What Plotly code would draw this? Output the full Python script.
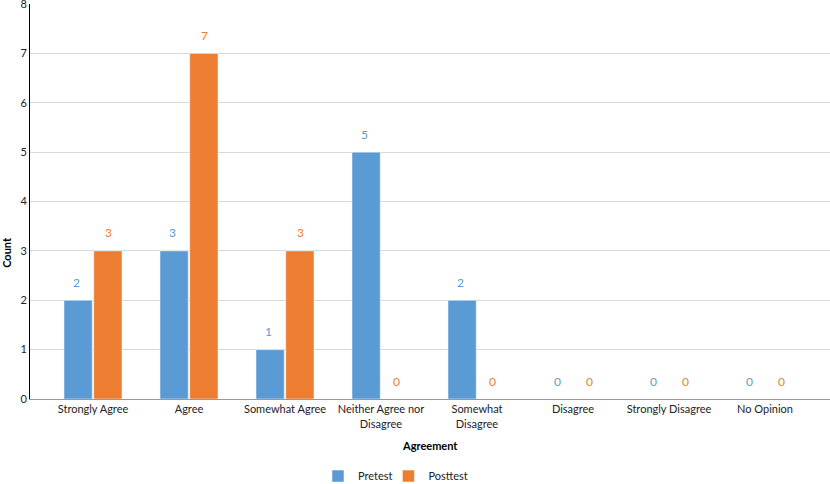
import plotly.graph_objects as go

categories = ["Strongly Agree", "Agree", "Somewhat Agree", "Neither Agree nor<br>Disagree",
              "Somewhat<br>Disagree", "Disagree", "Strongly Disagree", "No Opinion"]
pretest = [2, 3, 1, 5, 2, 0, 0, 0]
posttest = [3, 7, 3, 0, 0, 0, 0, 0]

BLUE = "#5B9BD5"
ORANGE = "#ED7D31"
FONT = "Lato"

fig = go.Figure()
fig.add_trace(go.Bar(x=categories, y=pretest, name="Pretest", marker_color=BLUE,
                     marker_line=dict(color="white", width=0.5), legend="legend"))
fig.add_trace(go.Bar(x=categories, y=posttest, name="Posttest", marker_color=ORANGE,
                     marker_line=dict(color="white", width=0.5), legend="legend2"))

# data labels above each bar
for vals, color, shift in [(pretest, BLUE, -16), (posttest, ORANGE, 16)]:
    for cat, v in zip(categories, vals):
        fig.add_annotation(x=cat, y=v, text=str(v), showarrow=False, xshift=shift, yshift=18,
                           font=dict(family=FONT, size=12, color=color))

fig.add_annotation(x=0.5, y=-0.095, xref="paper", yref="paper", xanchor="center", yanchor="top",
                   text="<b>Agreement</b>", showarrow=False, font=dict(family=FONT, size=11, color="black"))
fig.add_annotation(x=0, y=0.37, xref="paper", yref="paper", xanchor="center", yanchor="middle",
                   text="<b>Count</b>", showarrow=False, textangle=-90, xshift=-23,
                   font=dict(family=FONT, size=11, color="black"))

leg = dict(orientation="h", xanchor="left", y=-0.195, yanchor="middle", bgcolor="rgba(0,0,0,0)",
           font=dict(family=FONT, size=11, color="#222"))
fig.update_layout(
    width=830, height=484,
    margin=dict(l=30, r=0, t=4, b=85, autoexpand=False),
    paper_bgcolor="white", plot_bgcolor="white",
    barmode="group", bargap=0.38, bargroupgap=0.05,
    font=dict(family=FONT, size=11, color="#222"),
    showlegend=True,
    legend=dict(leg, x=0.360),
    legend2=dict(leg, x=0.448),
)
fig.update_xaxes(type="category", range=[-0.656, 7.677], showline=True, linecolor="#999",
                 linewidth=1, ticks="", tickfont=dict(size=11), automargin=False)
fig.update_yaxes(range=[0, 8], dtick=1, showgrid=True, gridcolor="#d9d9d9", showline=True,
                 linecolor="black", linewidth=1, ticks="", zeroline=False, tickfont=dict(size=11),
                 automargin=False, ticklabeloverflow="allow")

# drop the browser's default page margin so the figure sits at the window corner
fig.write_html("out.html", config={"displayModeBar": False},
               post_script="document.body.style.margin='0';")
